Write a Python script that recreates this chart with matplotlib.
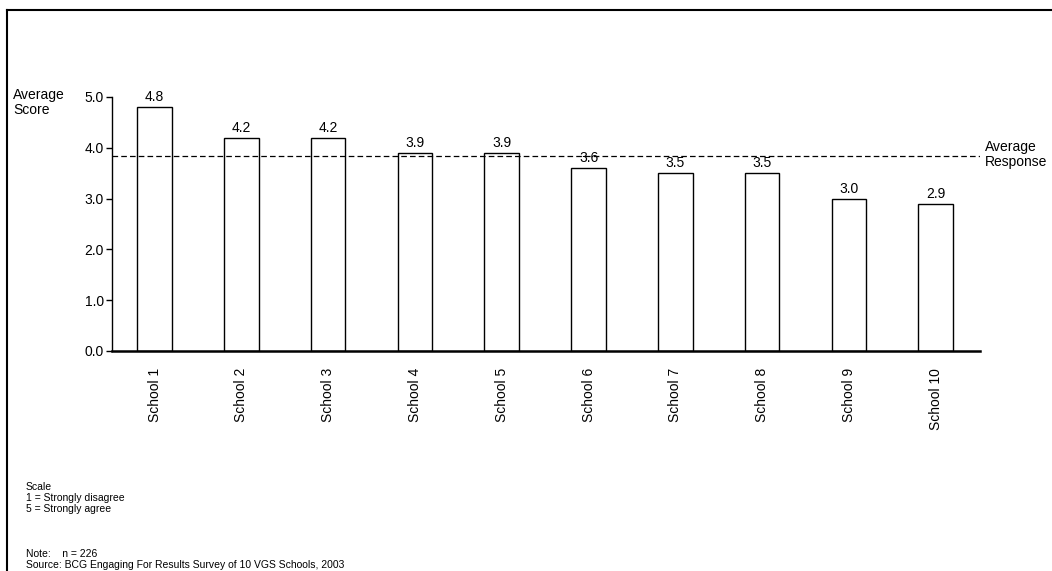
import matplotlib
matplotlib.use("Agg")
import matplotlib.pyplot as plt
from matplotlib.lines import Line2D

plt.rcParams['font.family'] = ['Liberation Sans', 'DejaVu Sans']

schools = ["School 1", "School 2", "School 3", "School 4", "School 5",
           "School 6", "School 7", "School 8", "School 9", "School 10"]
scores = [4.8, 4.2, 4.2, 3.9, 3.9, 3.6, 3.5, 3.5, 3.0, 2.9]
average_response = 3.84
yticks = [0.0, 1.0, 2.0, 3.0, 4.0, 5.0]

fig = plt.figure(figsize=(10.52, 5.71), dpi=100)
ax = fig.add_axes([112/1052, 1-351/571, (980-112)/1052, (351-97)/571])

x = list(range(len(schools)))
ax.bar(x, scores, width=0.40, color="white", edgecolor="black", linewidth=1.0, zorder=2)
for xi, v in zip(x, scores):
    ax.text(xi, v + 0.06, f"{v:.1f}", ha="center", va="bottom", fontsize=10)

ax.axhline(average_response, color="black", linestyle=(0, (4.5, 2.5)), linewidth=0.9, zorder=3)

ax.set_xlim(-0.49, 9.51)
ax.set_ylim(0, 5)
ax.set_yticks(yticks)
ax.set_yticklabels([f"{t:.1f}" for t in yticks], fontsize=10)
ax.set_xticks(x)
ax.set_xticklabels(schools, rotation=90, fontsize=10)
ax.tick_params(axis="x", length=0, pad=12)
ax.tick_params(axis="y", length=4, width=1, direction="out", pad=2)
ax.spines["top"].set_visible(False)
ax.spines["right"].set_visible(False)
ax.spines["bottom"].set_linewidth(1.8)
ax.spines["left"].set_linewidth(1.0)

fig.text(13/1052, 1-88/571, "Average\nScore", ha="left", va="top", fontsize=10, linespacing=1.05)
fig.text(985/1052, 1-140/571, "Average\nResponse", ha="left", va="top", fontsize=10, linespacing=1.05)

fig.text(26/1052, 1-482/571, "Scale\n1 = Strongly disagree\n5 = Strongly agree",
         ha="left", va="top", fontsize=7.5, linespacing=1.1)
fig.text(26/1052, 1-549/571, "Note:    n = 226\nSource: BCG Engaging For Results Survey of 10 VGS Schools, 2003",
         ha="left", va="top", fontsize=7.5, linespacing=1.1)

# frame lines
fig.add_artist(Line2D([7/1052, 1.0], [1-10/571, 1-10/571], color="black", linewidth=1.5, transform=fig.transFigure))
fig.add_artist(Line2D([7/1052, 7/1052], [1-10/571, 0.0], color="black", linewidth=1.5, transform=fig.transFigure))

fig.savefig("out.png", dpi=100)
